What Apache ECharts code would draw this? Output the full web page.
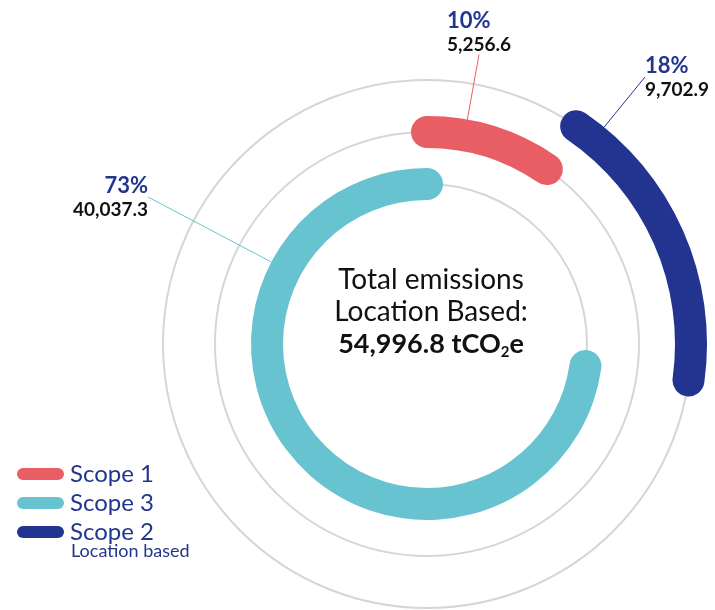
<!DOCTYPE html>
<html>
<head>
<meta charset="utf-8">
<script src="https://cdn.jsdelivr.net/npm/echarts@6/dist/echarts.min.js"></script>
<style>
  html, body { margin: 0; padding: 0; background: #fff; }
  #chart { width: 715px; height: 610px; }
</style>
</head>
<body>
<div id="chart"></div>
<script>
// emissions, tCO2e, in clockwise order from 12 o'clock
const scopes = ['Scope 1', 'Scope 2', 'Scope 3'];
const emissions = [5256.6, 9702.9, 40037.3];
// which scope sits on which ring, inner -> outer
const rings = ['Scope 3', 'Scope 1', 'Scope 2'];
const legendOrder = ['Scope 1', 'Scope 3', 'Scope 2'];

const colors = { 'Scope 1': '#E95E65', 'Scope 2': '#22348F', 'Scope 3': '#68C3D0' };
const navy = '#22368F';
const font = 'Lato';

const total = emissions.reduce((a, b) => a + b, 0);
const fmt = v => v.toLocaleString('en-US', { minimumFractionDigits: 1, maximumFractionDigits: 1 });

// label boxes placed beside the rings
const labelSpots = {
  'Scope 1': { x: 447, y: 7, align: 'left', width: 28 },
  'Scope 2': { x: 645, y: 52, align: 'left' },
  'Scope 3': { x: 148, y: 172, align: 'right' }
};

// each ring starts where the previous scope ended
const offsets = [];
let run = 0;
emissions.forEach(v => { offsets.push(run); run += v; });

const series = [{
  name: 'offset',
  type: 'bar',
  coordinateSystem: 'polar',
  polarIndex: 0,
  stack: 'ring',
  barWidth: 32,
  clip: false,
  silent: true,
  data: rings.map(r => offsets[scopes.indexOf(r)]),
  itemStyle: { color: 'transparent' }
}];

scopes.forEach((name, i) => {
  const spot = labelSpots[name];
  series.push({
    name: name,
    type: 'bar',
    coordinateSystem: 'polar',
    polarIndex: 0,
    stack: 'ring',
    barWidth: 32,
    roundCap: true,
    clip: false,
    z: 3,
    data: rings.map(r => (r === name ? emissions[i] : '-')),
    itemStyle: { color: colors[name] },
    label: {
      show: true,
      align: spot.align,
      width: spot.width,
      formatter: p => '{p|' + Math.round(p.value / total * 100) + '%}\n{v|' + fmt(p.value) + '}',
      rich: {
        p: { fontFamily: font, fontSize: 22, fontWeight: 'bold', color: navy, lineHeight: 27 },
        v: { fontFamily: font, fontSize: 19, fontWeight: 'bold', color: '#111', lineHeight: 22 }
      }
    },
    labelLayout: { x: spot.x, y: spot.y, align: spot.align, verticalAlign: 'top' },
    labelLine: { show: true, lineStyle: { color: colors[name], width: 1 } }
  });
});

const hiddenAngle = {
  type: 'value',
  axisLine: { show: false },
  axisTick: { show: false },
  axisLabel: { show: false },
  splitLine: { show: false }
};

const chart = echarts.init(document.getElementById('chart'));
chart.setOption({
  animation: false,
  polar: [
    { center: [427, 344], radius: [160, 264] },
    { center: [427, 344], radius: [160, 264] }
  ],
  angleAxis: [
    Object.assign({}, hiddenAngle, { polarIndex: 0, min: 0, max: total, startAngle: 90, clockwise: true }),
    Object.assign({}, hiddenAngle, { polarIndex: 1, min: 0, max: 1 })
  ],
  radiusAxis: [
    {
      polarIndex: 0,
      type: 'category',
      data: rings,
      boundaryGap: false,
      axisLine: { show: false },
      axisTick: { show: false },
      axisLabel: { show: false },
      splitLine: { show: false }
    },
    {
      // one grey guide circle under each ring
      polarIndex: 1,
      type: 'value',
      min: 0,
      max: rings.length - 1,
      interval: 1,
      axisLine: { show: false },
      axisTick: { show: false },
      axisLabel: { show: false },
      splitLine: { show: true, lineStyle: { color: '#D6D6D6', width: 2 } }
    }
  ],
  legend: {
    data: legendOrder,
    orient: 'vertical',
    left: 12,
    top: 457,
    itemWidth: 47,
    itemHeight: 12,
    itemGap: 5,
    selectedMode: false,
    icon: 'path://M6 0H41A6 6 0 0 1 41 12H6A6 6 0 0 1 6 0Z',
    textStyle: { color: navy, fontFamily: font, fontSize: 24, lineHeight: 24, padding: [0, 0, 0, 1] }
  },
  graphic: [
    {
      type: 'text',
      x: 431,
      y: 264,
      style: {
        text: 'Total emissions\nLocation Based:\n{b|' + fmt(total) + ' tCO}{s|2}{b|e}',
        align: 'center',
        verticalAlign: 'top',
        fill: '#111',
        fontFamily: font,
        fontSize: 28,
        lineHeight: 32,
        rich: {
          b: { fontFamily: font, fontSize: 27, fontWeight: 'bold', lineHeight: 32 },
          s: { fontFamily: font, fontSize: 15, fontWeight: 'bold', lineHeight: 32, verticalAlign: 'bottom' }
        }
      }
    },
    {
      type: 'text',
      left: 71,
      top: 542,
      style: { text: 'Location based', fill: navy, fontFamily: font, fontSize: 18 }
    }
  ],
  series: series
});
</script>
</body>
</html>
